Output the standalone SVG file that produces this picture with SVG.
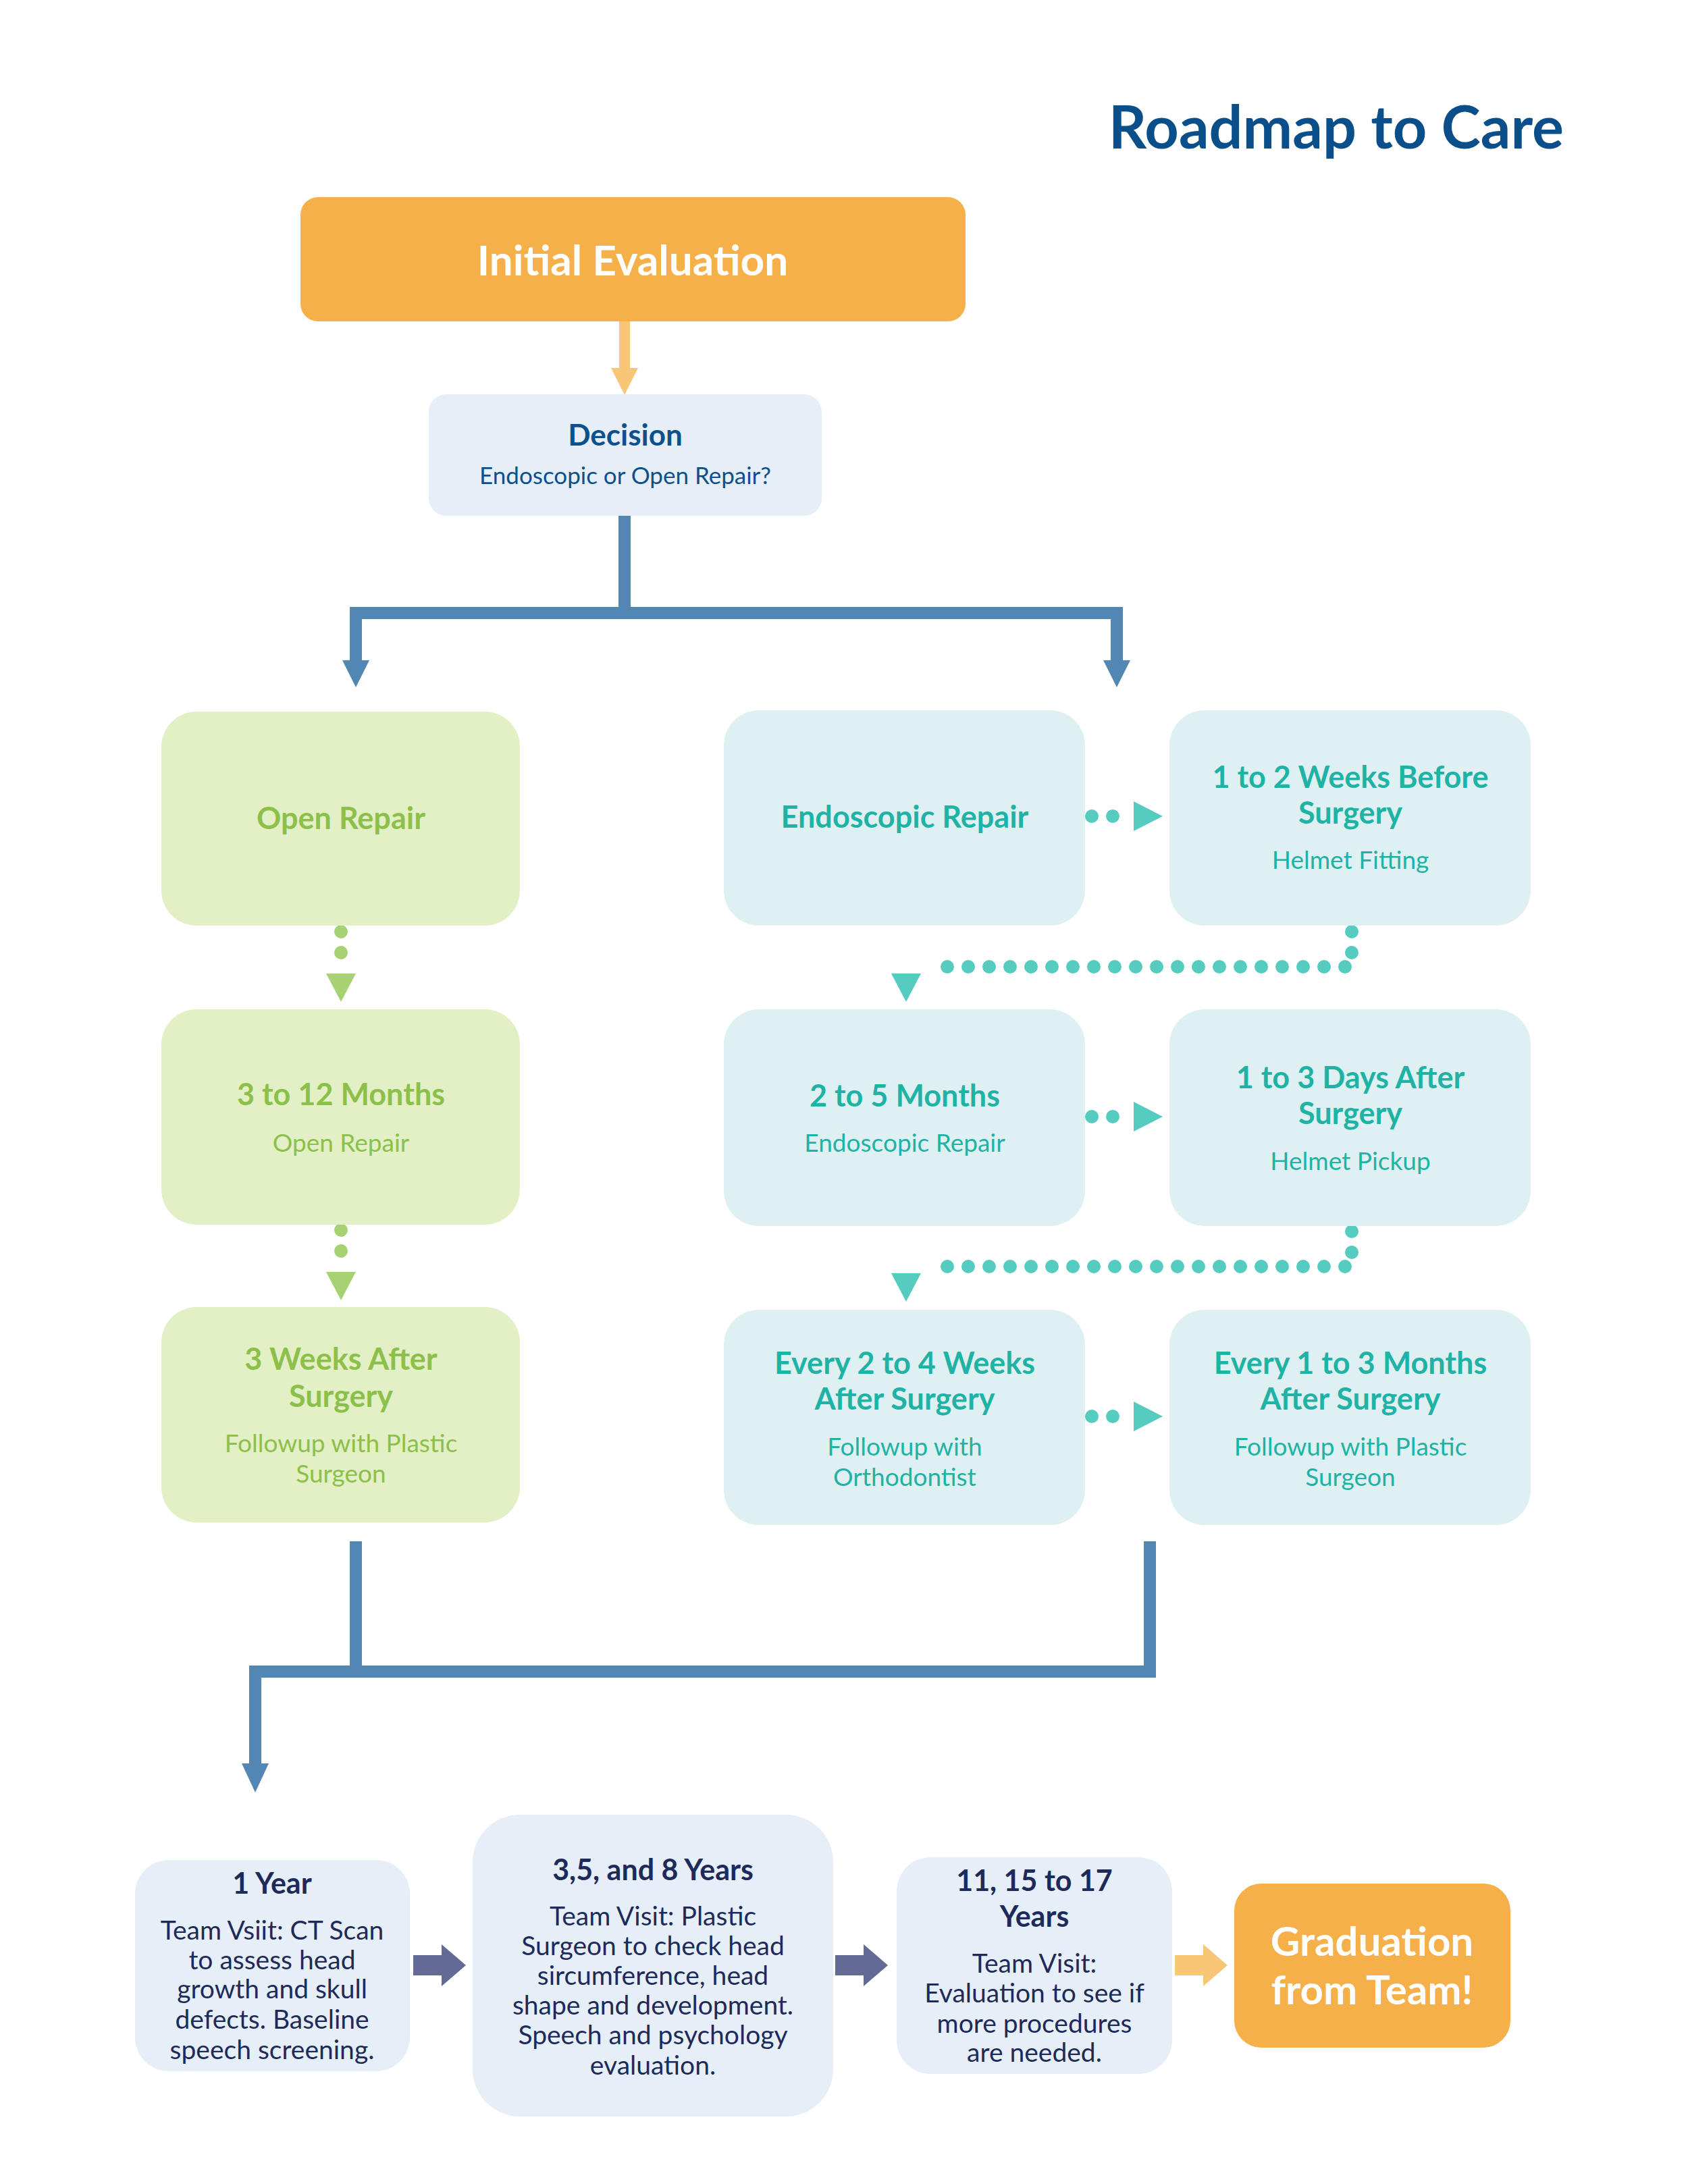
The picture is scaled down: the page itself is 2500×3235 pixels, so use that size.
<svg xmlns="http://www.w3.org/2000/svg" width="2500" height="3235" viewBox="0 0 2500 3235">
<style>
text{font-family:Lato,"Open Sans","Liberation Sans",sans-serif;text-anchor:middle;dominant-baseline:central}
.b{font-weight:bold}
.g{fill:#e3efc5}.gt{fill:#8cc04b}
.t{fill:#dff0f3}.tt{fill:#1fb3a5}
.d{fill:#e6eff7}
.h{font-size:45px;font-weight:bold}
.s{font-size:37px}
.bt{fill:#1d2a5a;font-size:39px}
.bl{fill:none;stroke:#5286b3;stroke-width:18}
.gd{fill:none;stroke:#a7d273;stroke-width:20;stroke-linecap:round;stroke-dasharray:0 31}
.td{fill:none;stroke:#56cbc0;stroke-width:20;stroke-linecap:round;stroke-dasharray:0 31}
</style>
<text x="2316" y="186" class="b" style="text-anchor:end;font-size:88px;fill:#0b4f8a">Roadmap to Care</text>
<g id="connectors">
<line x1="925" y1="476" x2="925" y2="550" stroke="#f8c677" stroke-width="16"/>
<polygon points="905,545 945,545 925,585" fill="#f8c677"/>
<polyline class="bl" points="925,764 925,908"/>
<polyline class="bl" points="527,985 527,908 1654,908 1654,985"/>
<polygon points="507,978 547,978 527,1018" fill="#5286b3"/>
<polygon points="1634,978 1674,978 1654,1018" fill="#5286b3"/>
<line class="gd" x1="505" y1="1380" x2="505" y2="1412"/>
<polygon points="483,1442 527,1442 505,1484" fill="#a7d273"/>
<line class="gd" x1="505" y1="1822" x2="505" y2="1854"/>
<polygon points="483,1884 527,1884 505,1926" fill="#a7d273"/>
<polyline class="td" points="2002,1380 2002,1432 1372,1432"/>
<polygon points="1320,1442 1364,1442 1342,1484" fill="#56cbc0"/>
<polyline class="td" points="2002,1824 2002,1876 1372,1876"/>
<polygon points="1320,1886 1364,1886 1342,1928" fill="#56cbc0"/>
<line class="td" x1="1617" y1="1209" x2="1650" y2="1209"/>
<polygon points="1679,1187 1679,1231 1722,1209" fill="#56cbc0"/>
<line class="td" x1="1617" y1="1654" x2="1650" y2="1654"/>
<polygon points="1679,1632 1679,1676 1722,1654" fill="#56cbc0"/>
<line class="td" x1="1617" y1="2098" x2="1650" y2="2098"/>
<polygon points="1679,2076 1679,2120 1722,2098" fill="#56cbc0"/>
<polyline class="bl" points="527,2283 527,2476"/>
<polyline class="bl" points="1703,2283 1703,2476 378,2476 378,2620"/>
<polygon points="358,2612 398,2612 378,2655" fill="#5286b3"/>
<polygon points="612,2896 654,2896 654,2880 690,2911 654,2942 654,2926 612,2926" fill="#636a93"/>
<polygon points="1237,2896 1279,2896 1279,2880 1315,2911 1279,2942 1279,2926 1237,2926" fill="#636a93"/>
<polygon points="1740,2896 1782,2896 1782,2880 1818,2911 1782,2942 1782,2926 1740,2926" fill="#f8c677"/>
</g>
<g id="initial"><rect x="445" y="292" width="985" height="184" rx="26" fill="#f5b04a"/><text x="937" y="384" class="b" style="font-size:62px;fill:#fff">Initial Evaluation</text></g>
<g id="decision"><rect x="635" y="584" width="582" height="180" rx="26" class="d"/><text x="926" y="643" class="b" style="font-size:44px;fill:#0e4f8d">Decision</text><text x="926" y="703" style="font-size:35px;fill:#0e4f8d">Endoscopic or Open Repair?</text></g>
<g id="open"><rect x="239" y="1054" width="531" height="317" rx="52" class="g"/><text x="505" y="1211" class="h gt">Open Repair</text></g>
<g id="open2"><rect x="239" y="1495" width="531" height="319" rx="52" class="g"/><text x="505" y="1620" class="h gt">3 to 12 Months</text><text x="505" y="1691" class="s gt">Open Repair</text></g>
<g id="open3"><rect x="239" y="1936" width="531" height="319" rx="52" class="g"/><text x="505" y="2012" class="h gt">3 Weeks After</text><text x="505" y="2067" class="h gt">Surgery</text><text x="505" y="2136" class="s gt">Followup with Plastic</text><text x="505" y="2181" class="s gt">Surgeon</text></g>
<g id="endo"><rect x="1072" y="1052" width="535" height="319" rx="52" class="t"/><text x="1340" y="1209" class="h tt">Endoscopic Repair</text></g>
<g id="helmetfit"><rect x="1732" y="1052" width="535" height="319" rx="52" class="t"/><text x="2000" y="1150" class="h tt">1 to 2 Weeks Before</text><text x="2000" y="1203" class="h tt">Surgery</text><text x="2000" y="1272" class="s tt">Helmet Fitting</text></g>
<g id="endo2"><rect x="1072" y="1495" width="535" height="321" rx="52" class="t"/><text x="1340" y="1622" class="h tt">2 to 5 Months</text><text x="1340" y="1691" class="s tt">Endoscopic Repair</text></g>
<g id="helmetpick"><rect x="1732" y="1495" width="535" height="321" rx="52" class="t"/><text x="2000" y="1595" class="h tt">1 to 3 Days After</text><text x="2000" y="1648" class="h tt">Surgery</text><text x="2000" y="1718" class="s tt">Helmet Pickup</text></g>
<g id="ortho"><rect x="1072" y="1940" width="535" height="319" rx="52" class="t"/><text x="1340" y="2018" class="h tt">Every 2 to 4 Weeks</text><text x="1340" y="2071" class="h tt">After Surgery</text><text x="1340" y="2141" class="s tt">Followup with</text><text x="1340" y="2186" class="s tt">Orthodontist</text></g>
<g id="plastic"><rect x="1732" y="1940" width="535" height="319" rx="52" class="t"/><text x="2000" y="2018" class="h tt">Every 1 to 3 Months</text><text x="2000" y="2071" class="h tt">After Surgery</text><text x="2000" y="2141" class="s tt">Followup with Plastic</text><text x="2000" y="2186" class="s tt">Surgeon</text></g>
<g id="year1"><rect x="200" y="2755" width="407" height="313" rx="50" class="d"/><text x="403" y="2788" class="b" style="fill:#1d2a5a;font-size:43px">1 Year</text><text x="403" y="2858" class="bt">Team Vsiit: CT Scan</text><text x="403" y="2902" class="bt">to assess head</text><text x="403" y="2945" class="bt">growth and skull</text><text x="403" y="2990" class="bt">defects. Baseline</text><text x="403" y="3035" class="bt">speech screening.</text></g>
<g id="years358"><rect x="700" y="2688" width="534" height="447" rx="70" class="d"/><text x="967" y="2768" class="b" style="fill:#1d2a5a;font-size:43px">3,5, and 8 Years</text><text x="967" y="2837" class="bt">Team Visit: Plastic</text><text x="967" y="2881" class="bt">Surgeon to check head</text><text x="967" y="2925" class="bt">sircumference, head</text><text x="967" y="2969" class="bt">shape and development.</text><text x="967" y="3013" class="bt">Speech and psychology</text><text x="967" y="3058" class="bt">evaluation.</text></g>
<g id="years1117"><rect x="1328" y="2751" width="408" height="321" rx="50" class="d"/><text x="1532" y="2784" class="b" style="fill:#1d2a5a;font-size:43px">11, 15 to 17</text><text x="1532" y="2837" class="b" style="fill:#1d2a5a;font-size:43px">Years</text><text x="1532" y="2907" class="bt">Team Visit:</text><text x="1532" y="2951" class="bt">Evaluation to see if</text><text x="1532" y="2996" class="bt">more procedures</text><text x="1532" y="3039" class="bt">are needed.</text></g>
<g id="graduation"><rect x="1828" y="2790" width="409" height="243" rx="40" fill="#f5b04a"/><text x="2032" y="2874" class="b" style="fill:#fff;font-size:60px">Graduation</text><text x="2032" y="2946" class="b" style="fill:#fff;font-size:60px">from Team!</text></g>
</svg>
